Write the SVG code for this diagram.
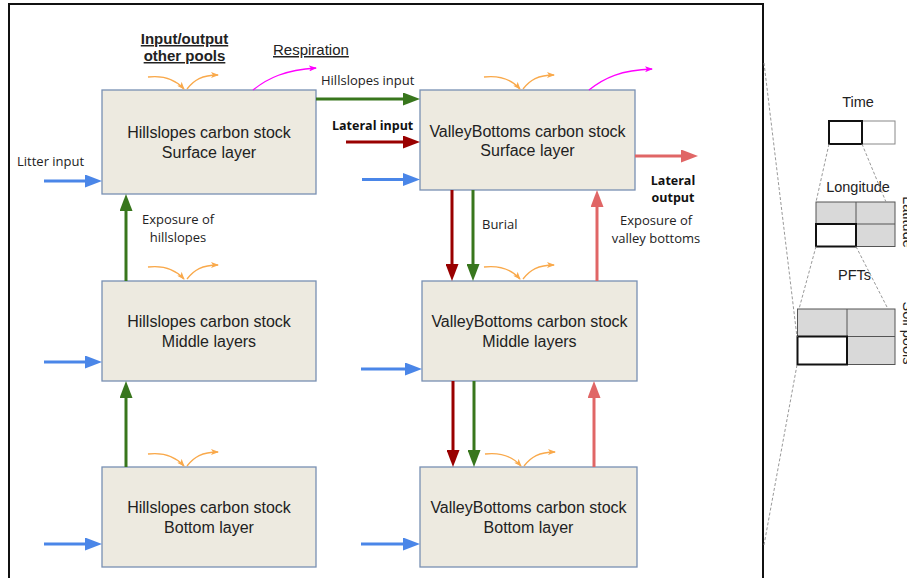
<svg xmlns="http://www.w3.org/2000/svg" width="907" height="578" viewBox="0 0 907 578">
<style>
.box{fill:#edeae0;stroke:#7890b3;stroke-width:1.3}
.bt{font-family:"Liberation Sans",Arial,sans-serif;font-size:16px;fill:#222;text-anchor:middle}
.lb{font-family:"Open Sans","Liberation Sans",sans-serif;font-size:13px;fill:#222}
.lbb{font-family:"Open Sans","Liberation Sans",sans-serif;font-size:12.5px;font-weight:bold;fill:#111}
.hd{font-family:"Liberation Sans",Arial,sans-serif;font-size:15px;fill:#222;text-decoration:underline}
.pt{font-family:"Liberation Sans",Arial,sans-serif;font-size:14.5px;fill:#222}
.c{fill:none;stroke-width:3}
.blue{stroke:#4a86e8}.green{stroke:#38761d}.red{stroke:#990000}.lred{stroke:#e06666}
.or{fill:none;stroke:#f9a94b;stroke-width:1.3}
.mg{fill:none;stroke:#ff00ff;stroke-width:1.3}
.dash{stroke:#999;stroke-width:1;stroke-dasharray:3,2;fill:none}
.grid{fill:#d9d9d9;stroke:#555;stroke-width:1}
.thick{fill:#fff;stroke:#111;stroke-width:2}
</style>
<defs>
<marker id="aBlue" viewBox="0 0 17 13" markerWidth="17" markerHeight="13" refX="5" refY="6.5" markerUnits="userSpaceOnUse" orient="auto"><path d="M0,0 L17,6.5 L0,13 z" fill="#4a86e8"/></marker>
<marker id="aGreen" viewBox="0 0 17 13" markerWidth="17" markerHeight="13" refX="5" refY="6.5" markerUnits="userSpaceOnUse" orient="auto"><path d="M0,0 L17,6.5 L0,13 z" fill="#38761d"/></marker>
<marker id="aRed" viewBox="0 0 17 13" markerWidth="17" markerHeight="13" refX="5" refY="6.5" markerUnits="userSpaceOnUse" orient="auto"><path d="M0,0 L17,6.5 L0,13 z" fill="#990000"/></marker>
<marker id="aLred" viewBox="0 0 17 13" markerWidth="17" markerHeight="13" refX="5" refY="6.5" markerUnits="userSpaceOnUse" orient="auto"><path d="M0,0 L17,6.5 L0,13 z" fill="#e06666"/></marker>
<marker id="aOr" viewBox="0 0 8 6" markerWidth="8" markerHeight="6" refX="7" refY="3" markerUnits="userSpaceOnUse" orient="auto"><path d="M0,0 L8,3 L0,6 L2,3 z" fill="#f9a94b"/></marker>
<marker id="aMg" viewBox="0 0 8 6" markerWidth="8" markerHeight="6" refX="7" refY="3" markerUnits="userSpaceOnUse" orient="auto"><path d="M0,0 L8,3 L0,6 L2,3 z" fill="#ff00ff"/></marker>
<g id="orPair"><path class="or" d="M148,77 C165,75 176,80 184,89" marker-end="url(#aOr)"/><path class="or" d="M187,89 C194,80 202,75 218,75" marker-end="url(#aOr)"/></g>
</defs>
<rect id="frame" x="9" y="4" width="754" height="600" fill="none" stroke="#111" stroke-width="2"/>

<g id="hs_surface"><rect class="box" x="102" y="90" width="214" height="104"/><text class="bt" x="209" y="138">Hillslopes carbon stock</text><text class="bt" x="209" y="158">Surface layer</text></g>
<g id="vb_surface"><rect class="box" x="420" y="90" width="215" height="100"/><text class="bt" x="527.5" y="137">ValleyBottoms carbon stock</text><text class="bt" x="527.5" y="156">Surface layer</text></g>
<g id="hs_middle"><rect class="box" x="102" y="281" width="214" height="100"/><text class="bt" x="209" y="327">Hillslopes carbon stock</text><text class="bt" x="209" y="347">Middle layers</text></g>
<g id="vb_middle"><rect class="box" x="422" y="281" width="215" height="100"/><text class="bt" x="529.5" y="327">ValleyBottoms carbon stock</text><text class="bt" x="529.5" y="347">Middle layers</text></g>
<g id="hs_bottom"><rect class="box" x="102" y="467" width="214" height="100"/><text class="bt" x="209" y="513">Hillslopes carbon stock</text><text class="bt" x="209" y="533">Bottom layer</text></g>
<g id="vb_bottom"><rect class="box" x="420" y="467" width="217" height="100"/><text class="bt" x="528.5" y="513">ValleyBottoms carbon stock</text><text class="bt" x="528.5" y="533">Bottom layer</text></g>

<g id="connectors">
<path class="c blue" d="M44,181 H90" marker-end="url(#aBlue)"/>
<path class="c blue" d="M362,179.5 H408" marker-end="url(#aBlue)"/>
<path class="c blue" d="M44,362 H90" marker-end="url(#aBlue)"/>
<path class="c blue" d="M361,369 H410" marker-end="url(#aBlue)"/>
<path class="c blue" d="M44,544 H90" marker-end="url(#aBlue)"/>
<path class="c blue" d="M361,544 H408" marker-end="url(#aBlue)"/>
<path class="c green" d="M316,99 H408" marker-end="url(#aGreen)"/>
<path class="c green" d="M126,281 V206" marker-end="url(#aGreen)"/>
<path class="c green" d="M126,467 V393" marker-end="url(#aGreen)"/>
<path class="c green" d="M473,190 V269" marker-end="url(#aGreen)"/>
<path class="c green" d="M474,381 V455" marker-end="url(#aGreen)"/>
<path class="c red" d="M346,142 H408" marker-end="url(#aRed)"/>
<path class="c red" d="M452,190 V269" marker-end="url(#aRed)"/>
<path class="c red" d="M453,381 V455" marker-end="url(#aRed)"/>
<path class="c lred" d="M635,156 H686" marker-end="url(#aLred)"/>
<path class="c lred" d="M597,281 V202" marker-end="url(#aLred)"/>
<path class="c lred" d="M594,467 V393" marker-end="url(#aLred)"/>
<use href="#orPair"/>
<use href="#orPair" transform="translate(0,190)"/>
<use href="#orPair" transform="translate(0,377)"/>
<use href="#orPair" transform="translate(336,0)"/>
<use href="#orPair" transform="translate(336,190)"/>
<use href="#orPair" transform="translate(337,377)"/>
<path class="mg" d="M253,90 C268,78 285,70 316,68" marker-end="url(#aMg)"/>
<path class="mg" d="M589,90 C604,78 621,70 652,69" marker-end="url(#aMg)"/>
</g>

<g id="labels">
<text class="lb" x="17" y="166">Litter input</text>
<text class="lb" x="321" y="85">Hillslopes input</text>
<text class="lbb" x="332" y="130">Lateral input</text>
<text class="lbb" x="673" y="185" text-anchor="middle">Lateral</text>
<text class="lbb" x="673" y="202" text-anchor="middle">output</text>
<text class="lb" x="656" y="224.5" text-anchor="middle">Exposure of</text>
<text class="lb" x="656" y="242.5" text-anchor="middle">valley bottoms</text>
<text class="lb" x="482" y="229">Burial</text>
<text class="lb" x="178" y="224" text-anchor="middle">Exposure of</text>
<text class="lb" x="178" y="242" text-anchor="middle">hillslopes</text>
<text class="hd" x="184.5" y="44" text-anchor="middle" font-weight="bold">Input/output</text>
<text class="hd" x="184.5" y="61" text-anchor="middle" font-weight="bold">other pools</text>
<text class="hd" x="273" y="55">Respiration</text>
</g>

<g id="dims">
<text class="pt" x="858" y="107" text-anchor="middle">Time</text>
<rect x="862" y="121" width="33" height="23" fill="#fff" stroke="#888" stroke-width="1"/>
<rect class="thick" x="829" y="121" width="33" height="23"/>
<text class="pt" x="858" y="192" text-anchor="middle">Longitude</text>
<rect class="grid" x="816" y="202" width="79" height="44.5"/>
<path d="M856,202 V246.5 M816,224 H895" stroke="#555" stroke-width="1"/>
<rect class="thick" x="816" y="224" width="40" height="22.5"/>
<text class="pt" x="854.5" y="280" text-anchor="middle">PFTs</text>
<rect class="grid" x="797.5" y="309" width="97.5" height="55.5"/>
<path d="M847,309 V364.5 M797.5,336.5 H895" stroke="#555" stroke-width="1"/>
<rect class="thick" x="797.5" y="336.5" width="49.5" height="28"/>
<text class="pt" text-anchor="middle" transform="translate(903,222) rotate(90)">Latitude</text>
<text class="pt" text-anchor="middle" transform="translate(903,333) rotate(90)">Soil pools</text>
<path class="dash" d="M829,144 L816,202 M862,144 L886,202 M816,246.5 L799,309 M856,246.5 L888,309 M764,63 L797,337 M797,365 L764,545"/>
</g>
</svg>
